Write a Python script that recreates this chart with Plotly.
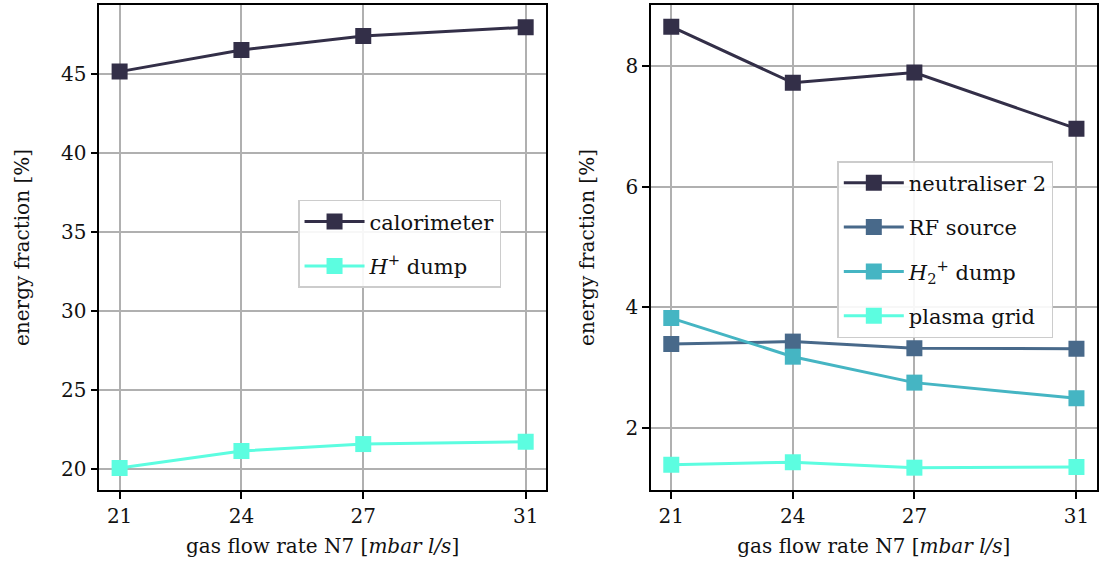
import plotly.graph_objects as go

flow = [21, 24, 27, 31]
tick_labels = ["21", "24", "27", "31"]

calorimeter = [45.15, 46.52, 47.40, 47.96]
h_plus_dump = [20.04, 21.12, 21.56, 21.71]

neutraliser2 = [8.65, 7.72, 7.89, 6.96]
rf_source = [3.39, 3.43, 3.32, 3.31]
h2_plus_dump = [3.82, 3.18, 2.75, 2.49]
plasma_grid = [1.39, 1.43, 1.34, 1.35]

DARK = "#332f48"
RF = "#48698a"
H2 = "#45b5c3"
LIGHT = "#5cfde0"
FONT = "DejaVu Serif, Liberation Serif, serif"
FS = 20

fig = go.Figure()

def add(x, y, name, color, xa, ya, legend, group):
    fig.add_trace(go.Scatter(
        x=x, y=y, name=name, mode="lines+markers",
        line=dict(color=color, width=3),
        marker=dict(symbol="square", size=16, color=color),
        xaxis=xa, yaxis=ya, legend=legend, legendgroup=group,
    ))

add(flow, calorimeter, "calorimeter", DARK, "x", "y", "legend", "a1")
add(flow, h_plus_dump, "<i>H</i><sup>+</sup> dump", LIGHT, "x", "y", "legend", "a2")
add(flow, neutraliser2, "neutraliser 2", DARK, "x2", "y2", "legend2", "b1")
add(flow, rf_source, "RF source", RF, "x2", "y2", "legend2", "b2")
add(flow, h2_plus_dump, "<i>H</i><sub>2</sub><sup>+</sup> dump", H2, "x2", "y2", "legend2", "b3")
add(flow, plasma_grid, "plasma grid", LIGHT, "x2", "y2", "legend2", "b4")

tfont = dict(family=FONT, size=FS, color="#111")
lfont = dict(family=FONT, size=21, color="#111")
axis_common = dict(
    showline=True, linecolor="black", linewidth=1.5, mirror=True,
    showgrid=True, gridcolor="#b0b0b0", gridwidth=1.5,
    ticks="outside", ticklen=7, tickwidth=1.5, tickcolor="black",
    tickfont=tfont, zeroline=False, automargin=False,
)
xtitle = dict(text="gas flow rate N7 [<i>mbar l/s</i>]", font=tfont, standoff=12)
ytitle = dict(text="energy fraction [%]", font=tfont, standoff=26)

legend_common = dict(
    xanchor="left", yanchor="top", bgcolor="rgba(255,255,255,0.9)",
    bordercolor="#cccccc", borderwidth=1.5, font=lfont,
    traceorder="grouped", tracegroupgap=14, itemwidth=60,
)

fig.update_layout(
    width=1101, height=579,
    margin=dict(l=0, r=0, t=5, b=89),
    paper_bgcolor="white", plot_bgcolor="white",
    font=tfont,
    xaxis=dict(domain=[0.0902, 0.4959], range=[20.5, 31.5], tickvals=flow, ticktext=tick_labels,
               title=xtitle, anchor="y", **axis_common),
    yaxis=dict(range=[18.65, 49.37], tickvals=[20, 25, 30, 35, 40, 45], title=ytitle, anchor="x", **axis_common),
    xaxis2=dict(domain=[0.5913, 0.9961], range=[20.5, 31.5], tickvals=flow, ticktext=tick_labels,
                title=xtitle, anchor="y2", **axis_common),
    yaxis2=dict(range=[0.97, 9.01], tickvals=[2, 4, 6, 8], title=ytitle, anchor="x2", **axis_common),
    legend=dict(x=0.2707, y=0.598, **legend_common),
    legend2=dict(x=0.7605, y=0.678, **legend_common),
    showlegend=True,
)

fig.write_html("out.html")
